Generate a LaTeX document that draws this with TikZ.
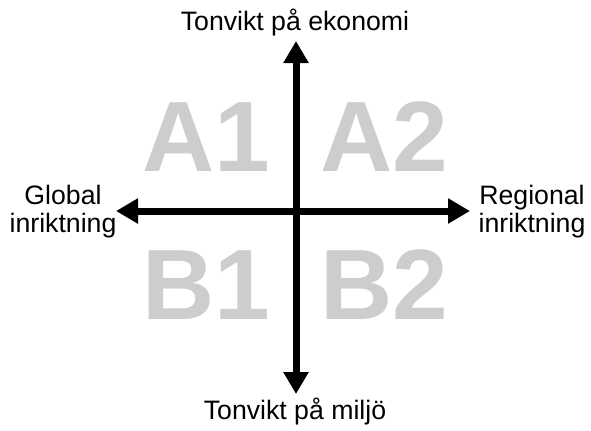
\documentclass[tikz,border=0pt]{standalone}
\usepackage{fontspec}
\setmainfont{Liberation Sans}
\usetikzlibrary{arrows.meta}
\definecolor{quadgray}{HTML}{CDCDCD}
\tikzset{
  axis/.style={line width=5.25pt, {Triangle[length=16.5pt,width=18pt]}-{Triangle[length=16.5pt,width=18pt]}},
  axislabel/.style={font=\fontsize{20}{21}\selectfont, align=center, inner sep=0pt},
  quadrant/.style={font=\fontsize{75}{75}\selectfont\bfseries, text=quadgray, inner sep=0pt}
}
\begin{document}
\begin{tikzpicture}[x=0.75pt,y=-0.75pt]
  \useasboundingbox (0,0) rectangle (591,430);
  % axis end points
  \coordinate (top) at (296,41);
  \coordinate (bottom) at (296,394);
  \coordinate (west) at (116,211);
  \coordinate (east) at (470,211);
  % quadrant letters
  \node[quadrant] (a1) at (206,137) {A1};
  \node[quadrant] (a2) at (384,137) {A2};
  \node[quadrant] (b1) at (206,285) {B1};
  \node[quadrant] (b2) at (384,285) {B2};
  % axes
  \draw[axis] (top) -- (bottom);
  \draw[axis] (west) -- (east);
  % axis labels
  \node[axislabel] (econ) at (295,23) {Tonvikt på ekonomi};
  \node[axislabel] (env) at (295,412) {Tonvikt på miljö};
  \node[axislabel] (glob) at (63,212) {Global\\inriktning};
  \node[axislabel] (reg) at (532,212) {Regional\\inriktning};
\end{tikzpicture}
\end{document}
